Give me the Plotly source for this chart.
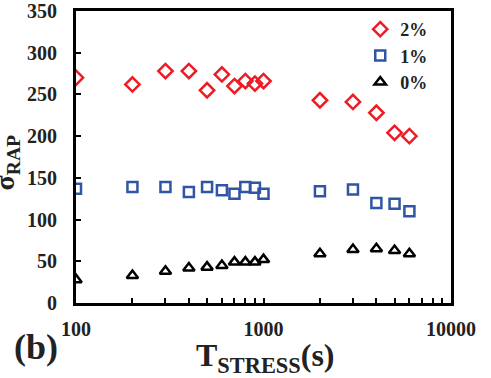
import plotly.graph_objects as go

t_stress = [100, 200, 300, 400, 500, 600, 700, 800, 900, 1000, 2000, 3000, 4000, 5000, 6000]
s2 = [270, 262, 278, 278, 255, 274, 260, 266, 263, 266, 243, 241, 228, 204, 200]
s1 = [137, 139, 139, 133, 139, 135, 131, 139, 138, 131, 134, 136, 120, 119, 110]
s0 = [28, 33, 38, 42, 43, 45, 49, 49, 49, 52, 59, 64, 65, 63, 59]

xticks = [100, 200, 300, 400, 500, 600, 700, 800, 900,
          1000, 2000, 3000, 4000, 5000, 6000, 7000, 8000, 9000, 10000]
xlabels = ["100"] + [""] * 8 + ["1000"] + [""] * 8 + ["10000"]
yticks = [0, 50, 100, 150, 200, 250, 300, 350]

FONT = "Liberation Serif"
TXT = "#222"

fig = go.Figure()
fig.add_trace(go.Scatter(x=t_stress, y=s2, mode="markers", name="2%",
                         marker=dict(symbol="diamond-open", size=11, color="#ed1c24",
                                     line=dict(width=2.5, color="#ed1c24"))))
fig.add_trace(go.Scatter(x=t_stress, y=s1, mode="markers", name="1%",
                         marker=dict(symbol="square-open", size=10, color="#2f55a4",
                                     line=dict(width=2.5, color="#2f55a4"))))
fig.add_trace(go.Scatter(x=t_stress, y=s0, mode="markers", name="0%",
                         marker=dict(symbol="triangle-up-open", size=10, color="black",
                                     line=dict(width=2.5, color="black"))))

fig.update_layout(
    width=491, height=378,
    margin=dict(l=76, r=40, t=11, b=75, autoexpand=False),
    paper_bgcolor="white", plot_bgcolor="white",
    font=dict(family=FONT, color=TXT, weight="bold"),
    showlegend=True,
    legend=dict(x=0.95, y=1.0, xanchor="right", yanchor="top",
                font=dict(size=18, family=FONT, weight="bold", color=TXT),
                bgcolor="rgba(0,0,0,0)", itemwidth=30, tracegroupgap=0),
    xaxis=dict(type="log", range=[2, 4], tickvals=xticks, ticktext=xlabels,
               ticks="inside", ticklen=5, tickwidth=2, tickcolor="black",
               showline=True, linecolor="black", linewidth=3, mirror=True,
               showgrid=False, zeroline=False, ticklabelstandoff=6, automargin=False,
               tickfont=dict(size=20, family=FONT, weight="bold", color=TXT)),
    yaxis=dict(range=[0, 350], tickvals=yticks,
               ticks="inside", ticklen=5, tickwidth=2, tickcolor="black",
               showline=True, linecolor="black", linewidth=3, mirror=True,
               showgrid=False, zeroline=False, ticklabelstandoff=12, automargin=False,
               tickfont=dict(size=20, family=FONT, weight="bold", color=TXT)),
    annotations=[
        dict(text="T<sub>STRESS</sub>(s)", x=0.504, y=-0.188, xref="paper", yref="paper",
             xanchor="center", yanchor="middle", showarrow=False,
             font=dict(size=32, family=FONT, weight="bold", color=TXT)),
        dict(text="(b)", x=-0.17, y=-0.15, xref="paper", yref="paper",
             xanchor="left", yanchor="middle", showarrow=False,
             font=dict(size=36, family=FONT, weight="bold", color=TXT)),
        dict(text="σ<sub>RAP</sub>", x=-0.185, y=0.48, xref="paper", yref="paper",
             xanchor="center", yanchor="middle", showarrow=False, textangle=-90,
             font=dict(size=28, family=FONT, weight="bold", color=TXT)),
    ],
)

fig.write_html("out.html")
